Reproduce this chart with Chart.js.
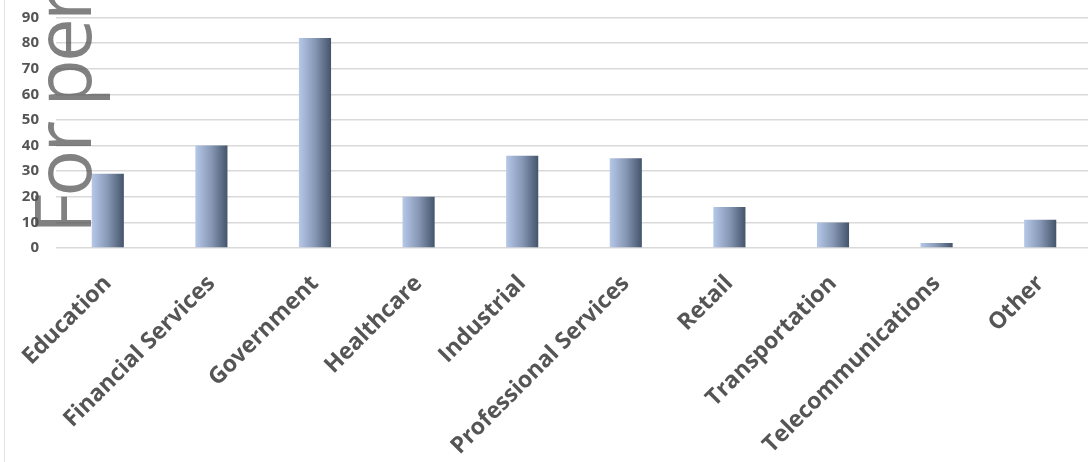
<!DOCTYPE html>
<html>
<head>
<meta charset="utf-8">
<script src="https://cdn.jsdelivr.net/npm/chart.js@4.4.1/dist/chart.umd.min.js"></script>
<style>
    html, body { margin: 0; padding: 0; background: #ffffff; overflow: hidden; }
    #wrap { width: 1088px; height: 462px; overflow: hidden; position: relative; }
    canvas { display: block; }
</style>
</head>
<body>
<div id="wrap"><canvas id="barChart" width="1092" height="462"></canvas></div>
<script>
const categories = [
    "Education",
    "Financial Services",
    "Government",
    "Healthcare",
    "Industrial",
    "Professional Services",
    "Retail",
    "Transportation",
    "Telecommunications",
    "Other",
];
const values = [29, 40, 82, 20, 36, 35, 16, 10, 2, 11];
const yTicks = [0, 10, 20, 30, 40, 50, 60, 70, 80, 90];
const watermark = "For personal use";

document.addEventListener("DOMContentLoaded", function () {
    const palette = {
        barLight: "#b6c8e8",
        barMid: "#8798b6",
        barDark: "#44546a",
        text: "#555555",
        grid: "#d9d9d9",
        frame: "#e3e3e3",
        mark: "rgba(80, 80, 80, 0.72)",
    };
    const barPct = 0.31;

    const barFill = function (ctx) {
        const chart = ctx.chart;
        const xScale = chart.scales.x;
        if (!xScale || ctx.dataIndex === undefined) return palette.barMid;
        const cx = xScale.getPixelForValue(ctx.dataIndex);
        const half = (xScale.width / categories.length) * barPct / 2;
        if (!isFinite(cx) || !isFinite(half) || half <= 0) return palette.barMid;
        const g = chart.ctx.createLinearGradient(cx - half, 0, cx + half, 0);
        g.addColorStop(0, palette.barLight);
        g.addColorStop(0.5, palette.barMid);
        g.addColorStop(1, palette.barDark);
        return g;
    };

    // frame line on the left and the rotated watermark
    const extras = {
        id: "extras",
        afterDraw(chart) {
            const c = chart.ctx;
            c.save();
            c.strokeStyle = palette.frame;
            c.lineWidth = 1;
            c.beginPath();
            c.moveTo(4.5, 0);
            c.lineTo(4.5, chart.height);
            c.stroke();

            c.translate(91, 234);
            c.rotate(-Math.PI / 2);
            c.fillStyle = palette.mark;
            c.font = "400 78px 'Open Sans'";
            c.letterSpacing = "-3px";
            c.textAlign = "left";
            c.textBaseline = "alphabetic";
            c.fillText(watermark, 0, 0);
            c.restore();
        },
    };

    new Chart(document.getElementById("barChart").getContext("2d"), {
        type: "bar",
        data: {
            labels: categories,
            datasets: [
                {
                    data: values,
                    backgroundColor: barFill,
                    borderWidth: 0,
                    barPercentage: barPct,
                    categoryPercentage: 1,
                },
            ],
        },
        options: {
            responsive: false,
            animation: false,
            layout: { padding: { top: 17.5, left: 0, right: 0, bottom: 0 } },
            plugins: {
                legend: { display: false },
                tooltip: { enabled: false },
            },
            scales: {
                x: {
                    grid: { display: false },
                    border: { display: false },
                    ticks: {
                        autoSkip: false,
                        minRotation: 45,
                        maxRotation: 45,
                        padding: 14,
                        color: palette.text,
                        font: { family: "'Open Sans'", size: 23, weight: "bold" },
                    },
                    afterFit(scale) {
                        scale.height = 214;
                    },
                },
                y: {
                    min: 0,
                    max: 90,
                    afterBuildTicks(scale) {
                        scale.ticks = yTicks.map((v) => ({ value: v }));
                    },
                    grid: { color: palette.grid, lineWidth: 1.5, drawTicks: false },
                    border: { display: false },
                    ticks: {
                        padding: 17,
                        color: palette.text,
                        font: { family: "'Open Sans'", size: 15, weight: "bold" },
                    },
                    afterFit(scale) {
                        scale.width = 56;
                        scale.paddingTop = 0;
                        scale.paddingBottom = 0;
                    },
                },
            },
        },
        plugins: [extras],
    });
});
</script>
</body>
</html>
